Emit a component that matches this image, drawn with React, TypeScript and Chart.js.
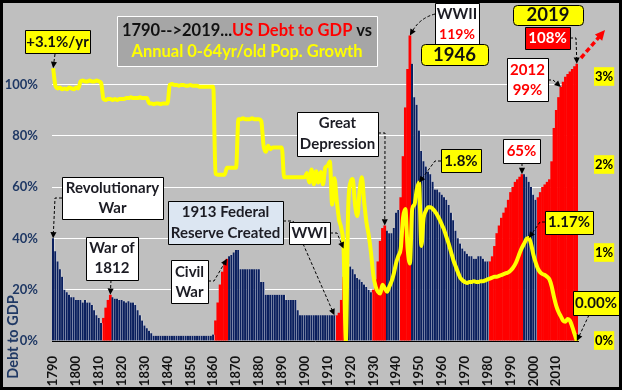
import React, { useEffect, useRef } from 'react';
import { Chart, registerables } from 'chart.js';

Chart.register(...registerables);

const FIRST_YEAR = 1790;

// US gross federal debt as % of GDP, 1790-2019 (one row per decade)
const debtToGdp: number[] = [
  40, 35, 31, 28, 25, 20, 19, 18, 17, 17,
  16, 16, 16, 15, 16, 15, 15, 14, 12, 10,
  9, 7, 9, 13, 16, 18, 17, 16.5, 16.5, 16,
  16, 15.5, 15, 15.5, 15, 15, 14, 12, 10, 8,
  6, 5, 4, 3, 2, 2, 2, 2, 2, 2,
  2, 2, 2, 2, 2, 2, 2, 2, 2, 2,
  2, 2, 2, 2, 2, 2, 2, 2, 2, 2,
  2.5, 8, 15, 22, 27, 30, 32, 33, 33.5, 34.5,
  35.5, 35.5, 28, 28, 28, 28, 28, 28, 28, 28,
  28, 23, 23, 18, 18, 18, 18, 18, 18, 18,
  18, 18, 16, 16, 16, 16, 16, 12, 10, 10,
  10, 10, 10, 10, 10, 10, 10, 10, 10, 10,
  10, 10, 10, 10, 10, 11, 16, 25, 34, 30,
  29, 28, 26, 24.5, 24, 23, 22, 21, 20, 19,
  20, 24, 31, 39, 44, 45, 43, 42, 42, 44,
  50, 51, 56, 72, 91, 106, 119, 108, 95, 92,
  82, 74, 70, 68, 66, 65, 62, 59, 59, 58,
  57, 56, 55, 53, 50, 47, 43, 40, 38, 36,
  35, 34, 33, 33, 32, 32, 33, 33, 32, 31,
  31, 31, 33, 37, 42, 45, 48, 50, 52, 55,
  58, 60, 62, 63, 64, 65, 65, 64, 62, 60,
  57, 55, 56, 58, 60, 61, 62, 63, 70, 83,
  90, 95, 99, 101, 103, 104, 105, 106, 107, 108,
];

// Annual growth of the 0-64 year old population, % (one row per decade)
const popGrowth: number[] = [
  3.10, 2.90, 2.87, 2.88, 2.86, 2.87, 2.86, 2.88, 2.87, 2.86,
  2.88, 2.87, 2.95, 2.96, 2.95, 2.95, 2.96, 2.95, 2.95, 2.96,
  2.95, 2.93, 2.75, 2.74, 2.75, 2.75, 2.74, 2.75, 2.74, 2.75,
  2.75, 2.75, 2.76, 2.76, 2.77, 2.76, 2.76, 2.76, 2.77, 2.76,
  2.76, 2.76, 2.70, 2.70, 2.69, 2.70, 2.70, 2.69, 2.70, 2.70,
  2.70, 2.91, 2.92, 2.91, 2.91, 2.90, 2.91, 2.91, 2.90, 2.90,
  2.91, 2.90, 2.90, 2.90, 2.89, 2.89, 2.89, 2.89, 2.89, 2.89,
  2.89, 1.90, 1.89, 1.89, 1.89, 1.89, 1.97, 1.97, 1.97, 1.97,
  1.97, 2.52, 2.52, 2.53, 2.52, 2.52, 2.52, 2.53, 2.52, 2.52,
  2.52, 2.50, 2.22, 2.15, 2.22, 2.18, 2.20, 2.20, 2.20, 2.20,
  2.20, 1.86, 1.86, 1.86, 1.86, 1.86, 1.86, 1.86, 1.86, 1.86,
  1.86, 1.91, 1.80, 1.95, 1.78, 1.93, 1.80, 1.92, 1.78, 1.97,
  1.99, 2.04, 1.55, 1.85, 1.60, 1.38, 1.28, 1.05, 0.00, 1.50,
  1.80, 1.84, 1.55, 1.42, 1.70, 1.86, 1.58, 1.35, 1.20, 1.00,
  0.75, 0.62, 0.56, 0.54, 0.64, 0.60, 0.56, 0.62, 0.68, 0.77,
  0.89, 0.97, 1.05, 1.40, 1.50, 1.05, 0.88, 1.50, 1.55, 1.72,
  1.80, 1.08, 1.40, 1.48, 1.52, 1.52, 1.50, 1.47, 1.43, 1.38,
  1.32, 1.26, 1.18, 1.10, 1.01, 0.92, 0.85, 0.78, 0.72, 0.69,
  0.67, 0.66, 0.67, 0.67, 0.68, 0.67, 0.67, 0.68, 0.68, 0.69,
  0.70, 0.71, 0.72, 0.73, 0.73, 0.74, 0.75, 0.76, 0.77, 0.78,
  0.80, 0.83, 0.87, 0.93, 1.00, 1.06, 1.11, 1.16, 1.17, 1.10,
  0.98, 0.89, 0.82, 0.78, 0.76, 0.75, 0.73, 0.70, 0.62, 0.50,
  0.40, 0.33, 0.28, 0.23, 0.22, 0.25, 0.23, 0.16, 0.08, 0.00,
];

// Periods of rising debt drawn in red
const redPeriods: [number, number][] = [
  [1812, 1815], [1861, 1866], [1914, 1918], [1930, 1935],
  [1942, 1946], [1981, 1995], [2002, 2019],
];

const years: string[] = debtToGdp.map((_, i) => String(FIRST_YEAR + i));
const leftMax = 100;
const rightTickValues = [0, 1, 2, 3];

const NAVY = '#0A1F5E';
const AXIS_NAVY = '#1F3864';
const RED = '#FF0000';
const YELLOW = '#FFFF00';
const BG = '#BFBFBF';
const DARK = '#1C1C24';
const FONT = 'Lato, "Open Sans", sans-serif';

const isRed = (yr: number) => redPeriods.some(([a, b]) => yr >= a && yr <= b);
const navyData = debtToGdp.map((v, i) => (isRed(FIRST_YEAR + i) ? null : v));
const redData = debtToGdp.map((v, i) => (isRed(FIRST_YEAR + i) ? v : null));

type Pt = [number, number];

function drawBox(ctx: CanvasRenderingContext2D, x: number, y: number, w: number, h: number, fill: string, stroke = '#000', r = 0) {
  ctx.save();
  ctx.beginPath();
  if (r > 0 && (ctx as any).roundRect) (ctx as any).roundRect(x + 0.5, y + 0.5, w, h, r);
  else ctx.rect(x + 0.5, y + 0.5, w, h);
  ctx.fillStyle = fill;
  ctx.fill();
  ctx.lineWidth = 1;
  ctx.strokeStyle = stroke;
  ctx.stroke();
  ctx.restore();
}

function drawText(ctx: CanvasRenderingContext2D, s: string, x: number, y: number, size: number, color: string, align: CanvasTextAlign = 'center') {
  ctx.save();
  ctx.font = `bold ${size}px ${FONT}`;
  ctx.fillStyle = color;
  ctx.textAlign = align;
  ctx.textBaseline = 'middle';
  ctx.fillText(s, x, y);
  ctx.restore();
}

function drawArrow(ctx: CanvasRenderingContext2D, pts: Pt[], opts: { color?: string; width?: number; dash?: number[]; head?: number; curve?: boolean } = {}) {
  const color = opts.color ?? '#000';
  const width = opts.width ?? 1;
  const head = opts.head ?? 7;
  const n = pts.length;
  const [x1, y1] = pts[n - 2];
  const [x2, y2] = pts[n - 1];
  const ang = Math.atan2(y2 - y1, x2 - x1);
  const ex = x2 - Math.cos(ang) * head * 0.8;
  const ey = y2 - Math.sin(ang) * head * 0.8;
  ctx.save();
  ctx.strokeStyle = color;
  ctx.fillStyle = color;
  ctx.lineWidth = width;
  ctx.setLineDash(opts.dash ?? [3, 2]);
  ctx.beginPath();
  ctx.moveTo(pts[0][0], pts[0][1]);
  if (opts.curve && n === 3) {
    ctx.quadraticCurveTo(pts[1][0], pts[1][1], ex, ey);
  } else {
    for (let i = 1; i < n - 1; i++) ctx.lineTo(pts[i][0], pts[i][1]);
    ctx.lineTo(ex, ey);
  }
  ctx.stroke();
  ctx.setLineDash([]);
  ctx.beginPath();
  ctx.moveTo(x2, y2);
  ctx.lineTo(x2 - head * Math.cos(ang - 0.45), y2 - head * Math.sin(ang - 0.45));
  ctx.lineTo(x2 - head * Math.cos(ang + 0.45), y2 - head * Math.sin(ang + 0.45));
  ctx.closePath();
  ctx.fill();
  ctx.restore();
}

const backgroundPlugin = {
  id: 'bgPlugin',
  beforeDraw(chart: any) {
    const { ctx, width, height } = chart;
    ctx.save();
    ctx.fillStyle = BG;
    ctx.fillRect(0, 0, width, height);
    ctx.restore();
  },
};

const annotationPlugin = {
  id: 'annotations',
  afterDraw(chart: any) {
    const { ctx, width, height } = chart;
    const xs = chart.scales.x;
    const ys = chart.scales.y;
    const y2s = chart.scales.y2;
    const px = (yr: number) => xs.getPixelForValue(yr - FIRST_YEAR);
    const debtPt = (yr: number): Pt => [px(yr), ys.getPixelForValue(debtToGdp[yr - FIRST_YEAR])];
    const growthPt = (yr: number): Pt => [px(yr), y2s.getPixelForValue(popGrowth[yr - FIRST_YEAR])];

    // Axis title
    ctx.save();
    ctx.translate(13, 337);
    ctx.rotate(-Math.PI / 2);
    drawText(ctx, 'Debt to GDP', 0, 0, 14.5, AXIS_NAVY);
    ctx.restore();

    // Title box
    drawBox(ctx, 117, 16, 260, 50, '#A6A6A6', '#FFFFFF');
    ctx.save();
    ctx.font = `bold 16.5px ${FONT}`;
    const parts: [string, string][] = [['1790-->2019...', '#111'], ['US Debt to GDP', RED], [' vs', '#111']];
    const total = parts.reduce((s, [t]) => s + ctx.measureText(t).width, 0);
    let tx = 247 - total / 2;
    ctx.textBaseline = 'middle';
    ctx.textAlign = 'left';
    for (const [t, c] of parts) {
      ctx.fillStyle = c;
      ctx.fillText(t, tx, 31);
      tx += ctx.measureText(t).width;
    }
    ctx.restore();
    drawText(ctx, 'Annual 0-64yr/old Pop. Growth', 247, 52, 16.5, YELLOW);

    // +3.1%/yr
    drawBox(ctx, 25, 30, 65, 23, YELLOW);
    drawText(ctx, '+3.1%/yr', 57.5, 42, 15, '#111');
    drawArrow(ctx, [[55, 54], growthPt(1790)]);

    // Revolutionary War
    drawArrow(ctx, [[62, 198], [55, 198], debtPt(1790)]);
    drawBox(ctx, 62, 177, 101, 42, '#FFFFFF');
    drawText(ctx, 'Revolutionary', 112.5, 188, 15, DARK);
    drawText(ctx, 'War', 112.5, 208, 15, DARK);

    // War of 1812
    drawArrow(ctx, [[111, 280], debtPt(1815)]);
    drawBox(ctx, 86, 237, 52, 43, '#FFFFFF');
    drawText(ctx, 'War of', 112, 248, 15, DARK);
    drawText(ctx, '1812', 112, 268, 15, DARK);

    // Civil War
    drawArrow(ctx, [[208, 281], [214, 281], debtPt(1866)]);
    drawBox(ctx, 171, 260, 37, 43, '#FFFFFF');
    drawText(ctx, 'Civil', 189.5, 272, 15, DARK);
    drawText(ctx, 'War', 189.5, 292, 15, DARK);

    // 1913 Federal Reserve
    drawArrow(ctx, [[283, 221], [293, 221], debtPt(1913)]);
    drawBox(ctx, 168, 201, 115, 43, '#DCE6F2');
    drawText(ctx, '1913 Federal', 225.5, 212, 15, DARK);
    drawText(ctx, 'Reserve Created', 225.5, 233, 15, DARK);

    // WWI
    drawArrow(ctx, [[330, 233], [337, 233], growthPt(1917)]);
    drawBox(ctx, 289, 222, 41, 22, '#FFFFFF');
    drawText(ctx, 'WWI', 309.5, 233.5, 15, DARK);

    // Great Depression
    drawArrow(ctx, [[378, 133], [385, 133], debtPt(1935)]);
    drawBox(ctx, 297, 112, 81, 44, '#FFFFFF');
    drawText(ctx, 'Great', 337.5, 123, 15, DARK);
    drawText(ctx, 'Depression', 337.5, 144, 15, DARK);

    // WWII
    drawArrow(ctx, [[435, 14], [420, 18], debtPt(1946)], { curve: true });
    drawBox(ctx, 435, 3, 44, 42, '#FFFFFF');
    drawText(ctx, 'WWII', 457, 14, 15, DARK);
    drawText(ctx, '119%', 457, 34, 14, RED);
    drawBox(ctx, 421, 44, 67, 21, YELLOW, '#000', 4);
    drawText(ctx, '1946', 454.5, 55, 18.5, '#111');

    // 1.8%
    drawArrow(ctx, [[441, 161], [435, 161], growthPt(1950)]);
    drawBox(ctx, 441, 149, 40, 23, YELLOW);
    drawText(ctx, '1.8%', 461, 161, 15, '#111');

    // 65%
    drawArrow(ctx, [[522, 163], debtPt(1995)]);
    drawBox(ctx, 503, 139, 37, 24, '#FFFFFF');
    drawText(ctx, '65%', 521.5, 151, 15, RED);

    // 1.17%
    drawArrow(ctx, [[545, 222], [540, 222], growthPt(1998)]);
    drawBox(ctx, 545, 211, 48, 23, YELLOW);
    drawText(ctx, '1.17%', 569, 222.5, 15, '#111');

    // 0.00%
    drawArrow(ctx, [[589, 315], growthPt(2019)]);
    drawBox(ctx, 573, 291, 46, 24, YELLOW);
    drawText(ctx, '0.00%', 596, 303, 15, '#111');

    // 2012 99%
    drawArrow(ctx, [[548, 80], [553, 80], debtPt(2012)]);
    drawBox(ctx, 507, 58, 41, 43, '#FFFFFF');
    drawText(ctx, '2012', 527.5, 70, 15, RED);
    drawText(ctx, '99%', 527.5, 90, 15, RED);

    // 2019 108%
    drawBox(ctx, 513, 5, 70, 20, YELLOW, '#000', 4);
    drawText(ctx, '2019', 548, 15.5, 18.5, '#111');
    drawArrow(ctx, [[570, 38], [576, 38], debtPt(2019)]);
    drawBox(ctx, 525, 27, 45, 22, RED);
    drawText(ctx, '108%', 547.5, 38, 15, '#FFFFFF');

    // red trend arrow
    drawArrow(ctx, [[581, 58], [605, 30]], { color: RED, width: 3.5, dash: [5, 3], head: 11 });

    // outer frame
    ctx.save();
    ctx.strokeStyle = '#000';
    ctx.lineWidth = 3;
    ctx.strokeRect(1.5, 1.5, width - 3, height - 3);
    ctx.restore();
  },
};

export default function App() {
  const ref = useRef<HTMLCanvasElement | null>(null);

  useEffect(() => {
    if (!ref.current) return;
    const chart = new Chart(ref.current, {
      type: 'bar',
      data: {
        labels: years,
        datasets: [
          {
            type: 'line',
            label: 'Annual 0-64yr/old Pop. Growth',
            data: popGrowth,
            yAxisID: 'y2',
            borderColor: YELLOW,
            borderWidth: 4,
            pointRadius: 0,
            cubicInterpolationMode: 'monotone',
            order: 0,
          } as any,
          {
            label: 'Debt to GDP',
            data: navyData,
            yAxisID: 'y',
            backgroundColor: NAVY,
            borderColor: '#FFFFFF',
            borderWidth: { top: 0, left: 0, bottom: 0, right: 0.6 },
            borderSkipped: false,
            barPercentage: 1,
            categoryPercentage: 1,
            grouped: false,
            order: 1,
          } as any,
          {
            label: 'Debt to GDP (rising)',
            data: redData,
            yAxisID: 'y',
            backgroundColor: RED,
            borderWidth: 0,
            barPercentage: 1.2,
            categoryPercentage: 1,
            grouped: false,
            order: 2,
          } as any,
        ],
      },
      options: {
        animation: false,
        responsive: false,
        devicePixelRatio: 1,
        layout: { padding: { top: 33, left: 0, right: 0, bottom: 0 } },
        plugins: { legend: { display: false }, tooltip: { enabled: false } },
        scales: {
          x: {
            type: 'category',
            offset: true,
            grid: { display: false },
            border: { display: true, color: '#000', width: 1 },
            ticks: {
              autoSkip: false,
              maxRotation: 90,
              minRotation: 90,
              padding: 7,
              color: '#111',
              font: { family: FONT, size: 13, weight: 'bold' },
              callback: (_v: any, i: number) => ((FIRST_YEAR + i) % 10 === 0 ? years[i] : ''),
            },
            afterFit: (s: any) => { s.height = 49; },
          },
          y: {
            position: 'left',
            min: 0,
            max: 120,
            grid: { color: '#FFFFFF', lineWidth: 1, drawTicks: false },
            border: { display: false },
            ticks: {
              stepSize: 20,
              padding: 14,
              color: AXIS_NAVY,
              font: { family: FONT, size: 13, weight: 'bold' },
              callback: (v: any) => `${v}%`,
            },
            afterBuildTicks: (s: any) => { s.ticks = s.ticks.filter((t: any) => t.value <= leftMax); },
            afterFit: (s: any) => { s.width = 52; },
          },
          y2: {
            position: 'right',
            min: 0,
            max: 3.5,
            grid: { display: false, drawTicks: false },
            border: { display: false },
            ticks: {
              stepSize: 1,
              padding: 17,
              color: '#000',
              showLabelBackdrop: true,
              backdropColor: YELLOW,
              backdropPadding: { top: 2, bottom: 1, left: 1, right: 1 },
              font: { family: FONT, size: 13, weight: 'bold' },
              callback: (v: any) => `${v}%`,
            },
            afterBuildTicks: (s: any) => { s.ticks = s.ticks.filter((t: any) => rightTickValues.includes(t.value)); },
            afterFit: (s: any) => { s.width = 44; },
          },
        },
      } as any,
      plugins: [backgroundPlugin, annotationPlugin],
    });
    return () => chart.destroy();
  }, []);

  return (
    <div style={{ position: 'fixed', left: 0, top: 0, width: 622, height: 390 }}>
      <canvas ref={ref} width={622} height={390} style={{ display: 'block', width: 622, height: 390 }} />
    </div>
  );
}
